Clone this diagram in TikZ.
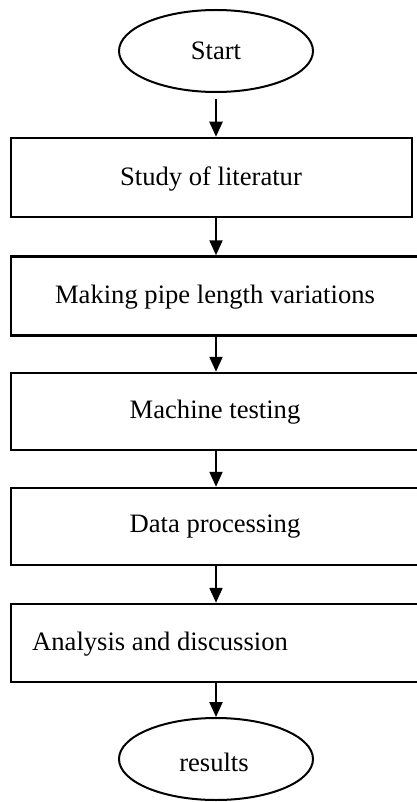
\documentclass[tikz,border=0pt]{standalone}
\usepackage{fontspec}
\setmainfont{Liberation Serif}
\usetikzlibrary{shapes.geometric,arrows.meta}
\tikzset{
  flow/.style={line width=2pt, draw=black},
  terminal/.style={flow, ellipse, minimum width=194pt, minimum height=82pt, inner sep=0pt},
  stepbox/.style={flow, line width=2.5pt, rectangle, inner sep=0pt, minimum height=79pt},
  label text/.style={inner sep=0pt, font=\fontsize{26.6}{32}\selectfont},
  arr/.style={line width=2.2pt, -{Triangle[width=13pt,length=15pt]}}
}
\begin{document}
\begin{tikzpicture}[x=1pt,y=-1pt]
  \useasboundingbox (0,0) rectangle (417,802);
  \clip (0,0) rectangle (417,802);
  \fill[white] (0,0) rectangle (417,802);

  % column of the connectors
  \coordinate (ax) at (216,0);

  % start / end terminals
  \node[terminal] (start) at (216,51) {};
  \node[label text] (tstart) at (216,51) {Start};

  % process boxes
  \node[stepbox, minimum width=401pt] (b1) at (211.5,177.5) {};
  \node[label text] (t1) at (211,179) {Study of literatur};

  \node[stepbox, minimum width=419pt] (b2) at (220.5,296) {};
  \node[label text] (t2) at (215,297) {Making pipe length variations};

  \node[stepbox, minimum width=419pt, minimum height=77pt] (b3) at (220.5,411.5) {};
  \node[label text] (t3) at (215,412) {Machine testing};

  \node[stepbox, minimum width=419pt, minimum height=77pt] (b4) at (220.5,526.5) {};
  \node[label text] (t4) at (215,527) {Data processing};

  \node[stepbox, minimum width=419pt, minimum height=78pt] (b5) at (220.5,643) {};
  \node[label text, anchor=west] (t5) at (32,644) {Analysis and discussion};

  \node[terminal] (stop) at (216,759) {};
  \node[label text] (tstop) at (214,762) {results};

  % connectors
  \draw[arr, shorten <=6pt] (ax |- start.south) -- (ax |- b1.north);
  \draw[arr] (ax |- b1.south) -- (ax |- b2.north);
  \draw[arr] (ax |- b2.south) -- (ax |- b3.north);
  \draw[arr] (ax |- b3.south) -- (ax |- b4.north);
  \draw[arr] (ax |- b4.south) -- (ax |- b5.north);
  \draw[arr] (ax |- b5.south) -- (ax |- stop.north);
\end{tikzpicture}
\end{document}
